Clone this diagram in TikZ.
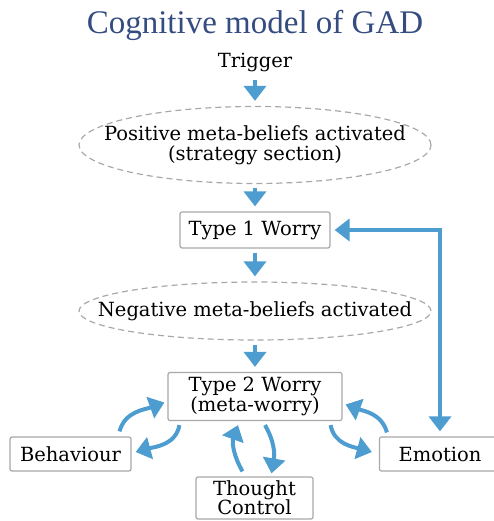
\documentclass[tikz,border=0pt]{standalone}
\usepackage{fontspec}
\setmainfont{DejaVu Serif}
\newfontfamily\titlefont{Liberation Serif}
\usepackage{tikz}
\usetikzlibrary{shapes.geometric}
\usetikzlibrary{arrows.meta}

\definecolor{linkblue}{RGB}{77,157,208}
\definecolor{titleblue}{RGB}{52,76,128}
\definecolor{boxgray}{RGB}{168,168,168}

\tikzset{
  textfont/.style={font=\fontsize{19.5}{20}\selectfont},
  box/.style={textfont, draw=boxgray, line width=1.2pt, rounded corners=2pt,
    fill=white, align=center, inner sep=0pt},
  belief/.style={textfont, draw=boxgray, line width=1.2pt, dash pattern=on 6pt off 4pt,
    ellipse, align=center, inner xsep=-40pt, inner ysep=2pt, minimum width=352pt},
  flow/.style={draw=linkblue, line width=4pt, -{Triangle[width=22pt,length=15pt]}},
  link/.style={flow, shorten <=4pt, shorten >=5pt},
  twoway/.style={link, {Triangle[width=22pt,length=15pt]}-{Triangle[width=22pt,length=15pt]}}
}

\begin{document}
\begin{tikzpicture}[x=1pt,y=1pt]
  \useasboundingbox (0,0) rectangle (494,521);

  \node[text=titleblue, font=\titlefont\fontsize{33}{36}\selectfont] (title) at (255,496) {Cognitive model of GAD};
  \node[textfont] (trigger) at (255,458) {Trigger};

  \node[belief, minimum height=77pt] (posbel) at (255,376) {Positive meta-beliefs activated\\(strategy section)};
  \node[box, minimum width=150pt, minimum height=36pt] (typeone) at (255,291) {Type 1 Worry};
  \node[belief, minimum height=58pt] (negbel) at (255,210) {Negative meta-beliefs activated};
  \node[box, minimum width=174pt, minimum height=48pt] (typetwo) at (255,124.5) {Type 2 Worry\\(meta-worry)};

  \node[box, minimum width=121pt, minimum height=34pt] (behav) at (70.5,67) {Behaviour};
  \node[box, minimum width=121pt, minimum height=34pt] (emot) at (440,67) {Emotion};
  \node[box, font=\fontsize{19.5}{18}\selectfont, minimum width=117pt, minimum height=42pt] (thought) at (254.5,23) {Thought\\[-1pt]Control};

  \draw[link] (trigger) -- (posbel);
  \draw[link] (posbel.south) -- (typeone.north);
  \draw[link] (typeone.south) -- (negbel.north);
  \draw[link] (negbel.south) -- (typetwo.north);
  \draw[twoway] (typeone.east) -| (emot.north);

  \draw[flow] ([xshift=49pt,yshift=5pt]behav.north) to[out=75,in=200] ([xshift=-3pt,yshift=-6pt]typetwo.west);
  \draw[flow] ([xshift=12pt,yshift=-4pt]typetwo.south west) to[out=-100,in=15] ([xshift=4pt,yshift=2pt]behav.east);
  \draw[flow] ([xshift=-12pt,yshift=-4pt]typetwo.south east) to[out=-80,in=165] ([xshift=-7pt,yshift=2pt]emot.west);
  \draw[flow] ([xshift=8pt,yshift=4pt]emot.north west) to[out=105,in=-20] ([xshift=3pt,yshift=-8pt]typetwo.east);
  \draw[flow] ([xshift=-12pt,yshift=5pt]thought.north) to[out=120,in=-110] ([xshift=-17pt,yshift=-4pt]typetwo.south);
  \draw[flow] ([xshift=10pt,yshift=-4pt]typetwo.south) to[out=-60,in=80] ([xshift=17pt,yshift=3pt]thought.north);
\end{tikzpicture}
\end{document}
